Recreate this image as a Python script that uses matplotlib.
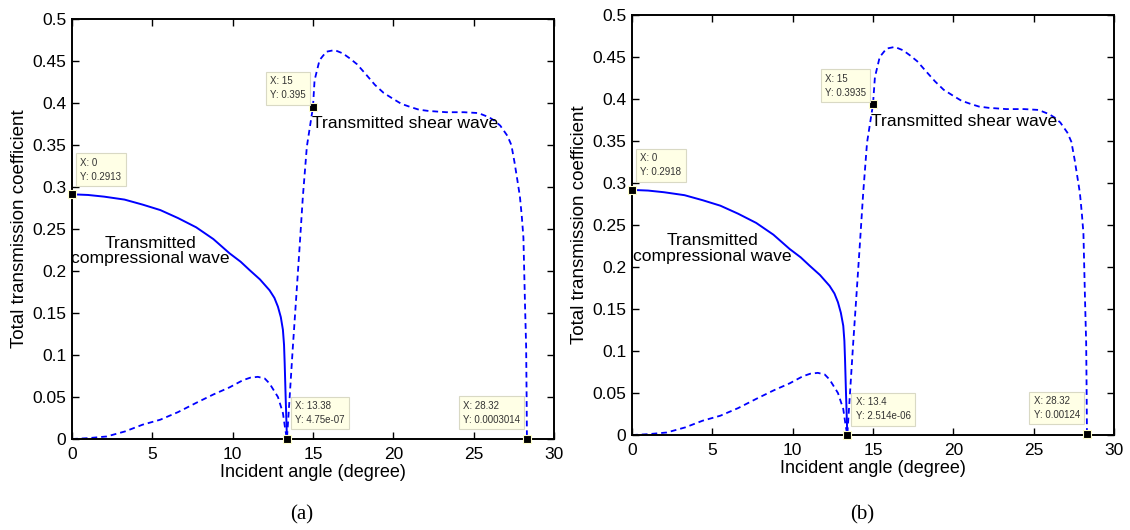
import matplotlib.pyplot as plt

plt.rcParams['font.family'] = ['Liberation Sans', 'DejaVu Sans']

# (a) transmitted compressional wave (solid)
xp_a = [0, 1, 2, 3.27, 4.4, 5.5, 6.6, 7.73, 8.8, 9.81, 10.5, 11.06, 11.7, 12.3, 12.6, 12.82, 13.0, 13.13, 13.2, 13.24, 13.3, 13.35, 13.38]
yp_a = [0.2913, 0.2905, 0.2885, 0.285, 0.279, 0.2725, 0.263, 0.252, 0.238, 0.221, 0.211, 0.201, 0.19, 0.177, 0.168, 0.1575, 0.145, 0.130, 0.112, 0.090, 0.050, 0.02, 0.0]

# (a) transmitted shear wave (dashed)
xs_a = [0, 1, 2.16, 3.3, 4.39, 5.5, 6.6, 7.73, 8.8, 9.81, 10.64, 11.1, 11.57, 12.0, 12.3, 12.82, 13.13, 13.28, 13.38,
        13.55, 13.75, 13.96, 14.17, 14.37, 14.62, 15.0, 15.1, 15.41, 15.83, 16.35, 16.86, 17.3, 17.75, 18.3, 18.86,
        19.4, 19.98, 20.5, 21.1, 21.6, 22.2, 23.3, 24.4, 25.3, 25.96, 26.3, 26.66, 27.1, 27.35, 27.55, 27.75, 27.88,
        28.0, 28.1, 28.2, 28.27, 28.3, 28.32]
ys_a = [0.0, 0.001, 0.003, 0.009, 0.017, 0.023, 0.032, 0.043, 0.053, 0.0615, 0.070, 0.073, 0.074, 0.072, 0.066, 0.050, 0.031, 0.011, 0.0,
        0.050, 0.110, 0.169, 0.229, 0.288, 0.348, 0.395, 0.427, 0.451, 0.461, 0.463, 0.459, 0.453, 0.446, 0.434, 0.4215,
        0.412, 0.405, 0.399, 0.395, 0.392, 0.3905, 0.389, 0.389, 0.388, 0.383, 0.379, 0.373, 0.361, 0.350, 0.329, 0.305, 0.289,
        0.265, 0.24, 0.16, 0.11, 0.05, 0.0003014]

# (b) transmitted compressional wave (solid)
xp_b = [0, 1, 2, 3.27, 4.4, 5.5, 6.6, 7.73, 8.8, 9.81, 10.5, 11.06, 11.7, 12.3, 12.6, 12.82, 13.0, 13.15, 13.22, 13.26, 13.32, 13.37, 13.4]
yp_b = [0.2918, 0.291, 0.289, 0.2855, 0.2795, 0.273, 0.2635, 0.2525, 0.2385, 0.2215, 0.2115, 0.2015, 0.1905, 0.1775, 0.1685, 0.158, 0.1455, 0.130, 0.112, 0.090, 0.050, 0.02, 0.0]

# (b) transmitted shear wave (dashed)
xs_b = [0, 1, 2.16, 3.3, 4.39, 5.5, 6.6, 7.73, 8.8, 9.81, 10.64, 11.1, 11.57, 12.0, 12.3, 12.82, 13.15, 13.3, 13.4,
        13.57, 13.77, 13.98, 14.19, 14.39, 14.63, 15.0, 15.12, 15.42, 15.84, 16.36, 16.87, 17.3, 17.75, 18.3, 18.86,
        19.4, 19.98, 20.5, 21.1, 21.6, 22.2, 23.3, 24.4, 25.3, 25.96, 26.3, 26.66, 27.1, 27.35, 27.55, 27.75, 27.88,
        28.0, 28.1, 28.2, 28.27, 28.3, 28.32]
ys_b = [0.0, 0.001, 0.003, 0.009, 0.017, 0.023, 0.032, 0.043, 0.053, 0.0615, 0.070, 0.073, 0.074, 0.072, 0.066, 0.050, 0.031, 0.011, 0.0,
        0.050, 0.110, 0.169, 0.229, 0.288, 0.348, 0.3935, 0.426, 0.450, 0.460, 0.462, 0.458, 0.452, 0.445, 0.433, 0.421,
        0.411, 0.404, 0.398, 0.394, 0.391, 0.3895, 0.388, 0.388, 0.387, 0.382, 0.378, 0.372, 0.360, 0.349, 0.328, 0.304, 0.288,
        0.264, 0.24, 0.16, 0.11, 0.05, 0.00124]

# data tips: (x, y, label, offset in points, horizontal alignment)
tips_a = [(0, 0.2913, 'X: 0\nY: 0.2913', (6, 9), 'left'),
          (15, 0.395, 'X: 15\nY: 0.395', (-5, 5), 'right'),
          (13.38, 4.75e-07, 'X: 13.38\nY: 4.75e-07', (6, 10), 'left'),
          (28.32, 0.0003014, 'X: 28.32\nY: 0.0003014', (-5, 10), 'right')]
tips_b = [(0, 0.2918, 'X: 0\nY: 0.2918', (6, 9), 'left'),
          (15, 0.3935, 'X: 15\nY: 0.3935', (-5, 5), 'right'),
          (13.4, 2.514e-06, 'X: 13.4\nY: 2.514e-06', (6, 10), 'left'),
          (28.32, 0.00124, 'X: 28.32\nY: 0.00124', (-5, 10), 'right')]

fig = plt.figure(figsize=(11.3, 5.3), dpi=100)
ax_a = fig.add_axes([0.0637, 0.1717, 0.4265, 0.7925])
ax_b = fig.add_axes([0.5593, 0.1792, 0.4265, 0.7925])

panels = [(ax_a, xp_a, yp_a, xs_a, ys_a, tips_a, (4.9, 0.224), (14.97, 0.375), '(a)'),
          (ax_b, xp_b, yp_b, xs_b, ys_b, tips_b, (5.0, 0.222), (14.87, 0.373), '(b)')]

for ax, xp, yp, xs, ys, tips, pos_p, pos_s, tag in panels:
    ax.plot(xp, yp, color='#0000ff', lw=1.4, solid_joinstyle='round')
    ax.plot(xs, ys, color='#0000ff', lw=1.3, linestyle=(0, (3.2, 2.2)))

    for x, y, label, off, ha in tips:
        ax.plot(x, y, marker='s', ms=5.5, color='black', mec='#ffffcc', mew=0.8,
                zorder=5, clip_on=False)
        ax.annotate(label, xy=(x, y), xytext=off, textcoords='offset points',
                    ha=ha, va='bottom', multialignment='left', fontsize=7,
                    color='#333333', linespacing=1.5,
                    bbox=dict(boxstyle='square,pad=0.45', fc='#ffffe6', ec='#d9d9c4', lw=0.8),
                    zorder=6)

    ax.text(pos_p[0], pos_p[1], 'Transmitted\ncompressional wave', ha='center', va='center',
            fontsize=12.6, linespacing=1.05)
    ax.text(pos_s[0], pos_s[1], 'Transmitted shear wave', ha='left', va='center', fontsize=12.6)

    ax.set_xlim(0, 30)
    ax.set_ylim(0, 0.5)
    ax.set_xticks([0, 5, 10, 15, 20, 25, 30])
    ax.set_xticklabels(['0', '5', '10', '15', '20', '25', '30'])
    ax.set_yticks([0, 0.05, 0.1, 0.15, 0.2, 0.25, 0.3, 0.35, 0.4, 0.45, 0.5])
    ax.set_yticklabels(['0', '0.05', '0.1', '0.15', '0.2', '0.25', '0.3', '0.35', '0.4', '0.45', '0.5'])
    ax.tick_params(direction='in', length=5, width=1, top=True, right=True, labelsize=12.5)
    ax.tick_params(axis='x', pad=6)
    ax.tick_params(axis='y', pad=4)
    for s in ax.spines.values():
        s.set_linewidth(1.4)
    ax.set_xlabel('Incident angle (degree)', fontsize=13, labelpad=1)
    ax.set_ylabel('Total transmission coefficient', fontsize=13.5, labelpad=3)

fig.text(302 / 1130, 1 - 515 / 530, '(a)', ha='center', va='center', fontsize=15, family='Liberation Serif')
fig.text(862 / 1130, 1 - 515 / 530, '(b)', ha='center', va='center', fontsize=15, family='Liberation Serif')

fig.savefig('out.png', dpi=100)
